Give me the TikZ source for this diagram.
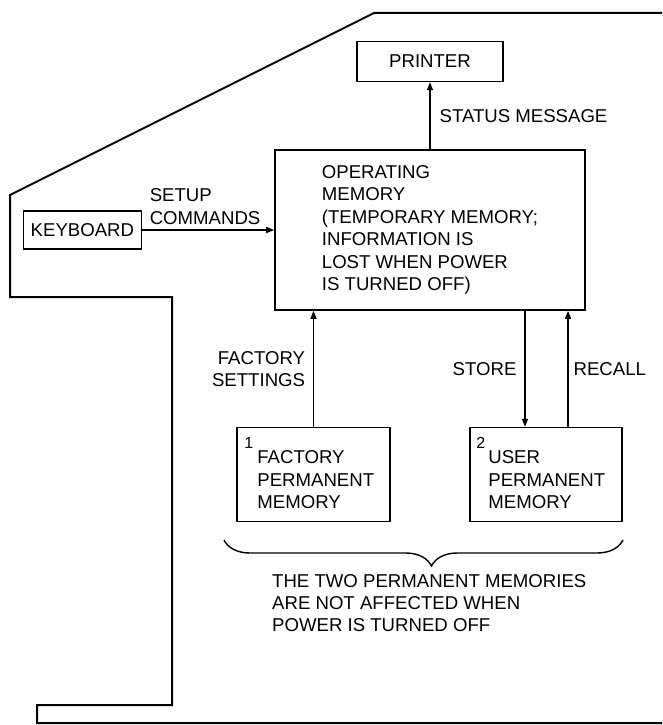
\documentclass[tikz,border=0pt]{standalone}
\usepackage{fontspec}
\setmainfont{Liberation Sans}
\usetikzlibrary{arrows.meta, positioning, decorations.pathreplacing}

\begin{document}
\begin{tikzpicture}[
    x=1pt, y=-1pt,
    font=\fontsize{18.6}{22.4}\selectfont,
    unit/.style={rectangle, draw, line width=1.6pt, align=left, inner sep=0pt},
    boxtext/.style={align=left, inner sep=0pt, anchor=north west},
    numtext/.style={font=\fontsize{16}{18}\selectfont, inner sep=0pt, anchor=north west},
    arrow/.style={-{Triangle[length=8pt, width=6pt]}, line width=1.2pt},
    outline/.style={line width=2pt, line join=miter},
    brace/.style={decorate, decoration={brace, mirror, amplitude=26pt, aspect=0.52}, line width=1.4pt}
]
\useasboundingbox (0,0) rectangle (662,725);

% Outline
\draw[outline] (662,13) -- (374,13) -- (10,195) -- (10,297) -- (172,297) -- (172,705) -- (37,705) -- (37,723) -- (662,723);

% Nodes
\node[unit, minimum width=310pt, minimum height=160pt] (opmem) at (430,230) {OPERATING\\MEMORY\\(TEMPORARY MEMORY;\\INFORMATION IS\\LOST WHEN POWER\\IS TURNED OFF)};
\node[unit, minimum width=146pt, minimum height=40pt, above=67pt of opmem] (printer) {PRINTER};
\node[unit, minimum width=118pt, minimum height=38pt, left=132pt of opmem] (keyboard) {KEYBOARD};
\node[unit, minimum width=153pt, minimum height=94pt, below=116pt of opmem, xshift=-116.5pt] (factory) {};
\node[unit, minimum width=152pt, minimum height=94pt, below=116pt of opmem, xshift=116pt] (user) {};
\node[numtext] (factorynum) at ([shift={(8pt,-10pt)}]factory.north west) {1};
\node[boxtext] (factorytext) at ([shift={(21pt,-24pt)}]factory.north west) {FACTORY\\PERMANENT\\MEMORY};
\node[numtext] (usernum) at ([shift={(7pt,-10pt)}]user.north west) {2};
\node[boxtext] (usertext) at ([shift={(19pt,-24pt)}]user.north west) {USER\\PERMANENT\\MEMORY};
\node[boxtext] (note) at (272,574) {THE TWO PERMANENT MEMORIES\\ARE NOT AFFECTED WHEN\\POWER IS TURNED OFF};
\coordinate (storeend) at ([xshift=-21pt]user.north);
\coordinate (recallstart) at ([xshift=22pt]user.north);

% Connections
\draw[arrow] (opmem) -- node[right, inner sep=0pt, xshift=9pt] {STATUS MESSAGE} (printer);
\draw[arrow] (keyboard) -- node[pos=0, anchor=south west, align=left, inner sep=0pt, xshift=7pt, yshift=5pt] {SETUP\\COMMANDS} (keyboard -| opmem.west);
\draw[arrow, line width=0.9pt] (factory) -- node[left, align=right, inner sep=0pt, xshift=-8pt] {FACTORY\\SETTINGS} (factory |- opmem.south);
\draw[arrow] (storeend |- opmem.south) -- node[left, inner sep=0pt, xshift=-8pt] {STORE} (storeend);
\draw[arrow] (recallstart) -- node[right, inner sep=0pt, xshift=5pt] {RECALL} (recallstart |- opmem.south);
\draw[brace] (224,540) -- (623,540);

\end{tikzpicture}
\end{document}
